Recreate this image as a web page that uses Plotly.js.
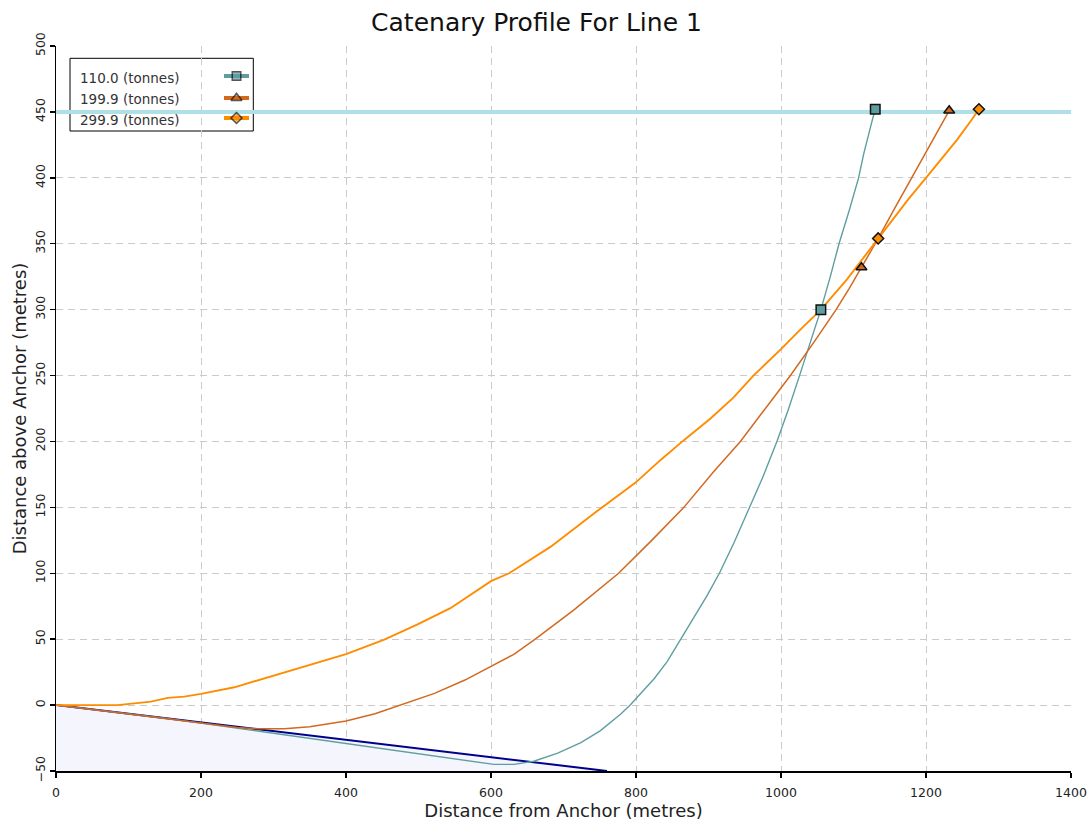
<!DOCTYPE html>
<html>
<head>
<meta charset="utf-8">
<script src="https://cdn.plot.ly/plotly-3.0.1.min.js"></script>
<style>html,body{margin:0;padding:0;background:#fff;}#chart{width:1092px;height:825px;}</style>
</head>
<body>
<div id="chart"></div>
<script>
// ---- data ----
const seriesNames = ['110.0 (tonnes)', '199.9 (tonnes)', '299.9 (tonnes)'];

const line1X = [0, 150, 300, 450, 586, 604, 632, 659, 692, 724, 751, 779, 792, 810, 825, 843, 862, 880, 898, 915, 935, 955, 975, 995, 1010, 1025, 1040, 1055, 1068, 1080, 1094, 1107, 1114, 1121, 1126, 1130];
const line1Y = [0, -9.9, -21.4, -33, -43.4, -45, -45, -42.6, -36.5, -28.5, -19.4, -6.8, 0, 11, 20, 33, 50, 66, 83, 100, 123, 148, 173, 201, 224, 249, 274, 300, 325, 350, 375, 400, 418, 434, 444, 452];

const line2X = [0, 100, 222, 250, 280, 315, 350, 400, 440, 476, 522, 564, 586, 632, 661, 714, 776, 820, 866, 907, 944, 980, 1013, 1045, 1076, 1094, 1111, 1133, 1156, 1180, 1205, 1225, 1232];
const line2Y = [0, -6.6, -15, -17, -18, -18, -16.5, -12.1, -6.5, 0, 8.9, 19, 25.2, 38.6, 50, 72, 100, 124, 150, 177, 200, 226, 250, 275, 300, 316, 332, 353, 376, 400, 425, 445, 451];

const line3X = [0, 85, 131, 154, 177, 200, 246, 292, 338, 400, 452, 498, 544, 586, 600, 625, 682, 746, 799, 834, 866, 902, 934, 962, 985, 1000, 1027, 1055, 1091, 1119, 1134, 1160, 1176, 1200, 1218, 1243, 1263, 1273];
const line3Y = [0, 0, 2.6, 5.5, 6.4, 8.5, 13.5, 21, 28, 38.7, 49.5, 61, 73.5, 88.5, 94, 100, 120, 147, 168.6, 186, 201, 217, 233, 250, 262, 270, 285, 300, 323, 343, 354, 373, 384, 400, 412, 429, 444, 452];

const mark1X = [1055, 1130], mark1Y = [300, 452];
const mark2X = [1111, 1232], mark2Y = [332, 451];
const mark3X = [1134, 1273], mark3Y = [354, 452];

const seabedX = [0, 760], seabedY = [0, -50];
const waterX = [0, 1400], waterY = [450, 450];

const xTickVals = [0, 200, 400, 600, 800, 1000, 1200, 1400];
const yTickVals = [-50, 0, 50, 100, 150, 200, 250, 300, 350, 400, 450, 500];

// ---- styles ----
const FONT = 'DejaVu Sans, Verdana, sans-serif';
const colors = ['#5f9ea0', '#d2691e', '#ff8c00'];
const symbols = ['square', 'triangle-up', 'diamond'];
const msizes = [9.5, 9.5, 8.5];
const lwidths = [1.4, 1.5, 1.9];
const yMin = -50;

const lines = [[line1X, line1Y], [line2X, line2Y], [line3X, line3Y]];
const marks = [[mark1X, mark1Y], [mark2X, mark2Y], [mark3X, mark3Y]];

const traces = [];
// seabed fill
traces.push({
  x: seabedX.concat([seabedX[0]]), y: seabedY.concat([yMin]),
  mode: 'lines', fill: 'toself', fillcolor: '#f5f6fd', line: {width: 0},
  hoverinfo: 'skip', showlegend: false
});
traces.push({
  x: seabedX, y: seabedY, mode: 'lines', line: {color: '#00008b', width: 2},
  showlegend: false
});
lines.forEach((l, i) => traces.push({
  x: l[0], y: l[1], mode: 'lines', name: seriesNames[i],
  line: {color: colors[i], width: lwidths[i]}, showlegend: false
}));
marks.forEach((m, i) => traces.push({
  x: m[0], y: m[1], mode: 'markers', name: seriesNames[i],
  marker: {symbol: symbols[i], size: msizes[i], color: colors[i], line: {color: '#111', width: 1.5}},
  showlegend: false
}));

// ---- custom legend (symbols on the right, like the reference) ----
const L = 56, PW = 1015, B = 771, PH = 725;
const px2x = p => (p - L) / PW;
const py2y = p => (B - p) / PH;
const rowText = [78, 99, 119.5];
const rowSym = [76, 98, 118];
const symX = px2x(236.5);

traces.push({
  x: [symX, symX, symX], y: rowSym.map(py2y), xaxis: 'x2', yaxis: 'y2',
  mode: 'markers', showlegend: false, hoverinfo: 'skip',
  marker: {symbol: symbols, size: [8.5, 9.5, 8.5], color: colors, line: {color: '#111', width: 1.5}}
});

const shapes = [
  {type: 'line', xref: 'x', yref: 'y', x0: waterX[0], x1: waterX[1], y0: waterY[0], y1: waterY[1],
   line: {color: '#b0e0e6', width: 4}, layer: 'between'},
  {type: 'rect', xref: 'paper', yref: 'paper', x0: px2x(70), x1: px2x(253.3), y0: py2y(131), y1: py2y(58.3),
   line: {color: '#000', width: 1}, fillcolor: '#fff', layer: 'between'}
];
rowSym.forEach((r, i) => shapes.push({
  type: 'line', xref: 'paper', yref: 'paper', x0: px2x(224), x1: px2x(249), y0: py2y(r), y1: py2y(r),
  line: {color: colors[i], width: 4}, layer: 'between'
}));

const annotations = seriesNames.map((n, i) => ({
  text: n, xref: 'paper', yref: 'paper', x: px2x(77.5), y: py2y(rowText[i]),
  xanchor: 'left', yanchor: 'middle', showarrow: false,
  font: {family: FONT, size: 13.5, color: '#333'}
}));

const axisCommon = {
  showgrid: true, gridcolor: '#cbcbcb', gridwidth: 1, griddash: '7px,5px',
  showline: true, linecolor: '#000', linewidth: 1.5,
  ticks: 'outside', ticklen: 5, tickwidth: 1.5, tickcolor: '#000',
  zeroline: false, automargin: false,
  tickfont: {family: FONT, size: 12.5, color: '#222'}
};

const layout = {
  width: 1092, height: 825,
  margin: {l: 56, r: 21, t: 46, b: 54},
  paper_bgcolor: '#fff', plot_bgcolor: '#fff',
  title: {text: 'Catenary Profile For Line 1', font: {family: FONT, size: 25, color: '#111'},
          xref: 'container', x: 0.4913, xanchor: 'center', yref: 'container', y: 0.973, yanchor: 'middle'},
  xaxis: Object.assign({}, axisCommon, {
    range: [0, 1400], tickvals: xTickVals, ticklabelstandoff: 4,
    title: {text: 'Distance from Anchor (metres)', font: {family: FONT, size: 18, color: '#222'}, standoff: 6}
  }),
  yaxis: Object.assign({}, axisCommon, {
    range: [yMin, 500], tickvals: yTickVals, tickangle: -90,
    title: {text: 'Distance above Anchor (metres)', font: {family: FONT, size: 18, color: '#222'}, standoff: 1}
  }),
  xaxis2: {overlaying: 'x', anchor: 'y2', range: [0, 1], visible: false, fixedrange: true},
  yaxis2: {overlaying: 'y', anchor: 'x2', range: [0, 1], visible: false, fixedrange: true},
  shapes: shapes,
  annotations: annotations,
  showlegend: false
};

Plotly.newPlot('chart', traces, layout, {displayModeBar: false, staticPlot: true});
</script>
</body>
</html>
